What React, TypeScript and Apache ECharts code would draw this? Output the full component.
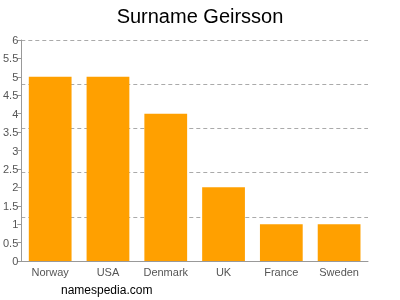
import React, { useEffect, useRef } from "react";
import * as echarts from "echarts";

const categories = ["Norway", "USA", "Denmark", "UK", "France", "Sweden"];
const values = [5, 5, 4, 2, 1, 1];

export default function App() {
  const ref = useRef<HTMLDivElement>(null);
  useEffect(() => {
    const chart = echarts.init(ref.current!, null, { renderer: "svg" });
    chart.setOption({
      animation: false,
      title: {
        text: "Surname Geirsson",
        left: "center",
        top: 1,
        textStyle: { fontFamily: "Liberation Sans, Arial, sans-serif", fontSize: 20, fontWeight: "normal", color: "#000" },
      },
      graphic: [
        {
          type: "text",
          left: 61,
          top: 284,
          style: { text: "namespedia.com", font: "12px Liberation Sans, Arial, sans-serif", fill: "#000" },
        },
      ],
      grid: { left: 20, right: 32, top: 40, bottom: 39, containLabel: false },
      xAxis: {
        type: "category",
        data: categories,
        axisLine: { lineStyle: { color: "#999" } },
        axisTick: { alignWithLabel: true, length: 4, lineStyle: { color: "#999" } },
        axisLabel: { interval: 0, color: "#555", fontSize: 11, fontFamily: "Liberation Sans, Arial, sans-serif", margin: 5 },
      },
      yAxis: [
        {
          type: "value",
          min: 0,
          max: 6,
          interval: 0.5,
          axisLine: { show: true, lineStyle: { color: "#999" } },
          axisTick: { show: true, length: 4, lineStyle: { color: "#999" } },
          axisLabel: { color: "#555", fontSize: 11, fontFamily: "Liberation Sans, Arial, sans-serif", margin: 3 },
          splitLine: { show: false },
        },
        {
          type: "value",
          min: 0,
          max: 6,
          interval: 1.2,
          position: "left",
          axisLine: { show: false },
          axisTick: { show: false },
          axisLabel: { show: false },
          splitLine: { show: true, lineStyle: { color: "#aaa", type: [4, 3] } },
        },
      ],
      series: [
        {
          type: "bar",
          data: values,
          yAxisIndex: 0,
          barCategoryGap: "26%",
          itemStyle: { color: "#ffa000" },
        },
      ],
    });
    return () => chart.dispose();
  }, []);
  return <div ref={ref} style={{ position: "fixed", left: 0, top: 0, width: 400, height: 300 }} />;
}
